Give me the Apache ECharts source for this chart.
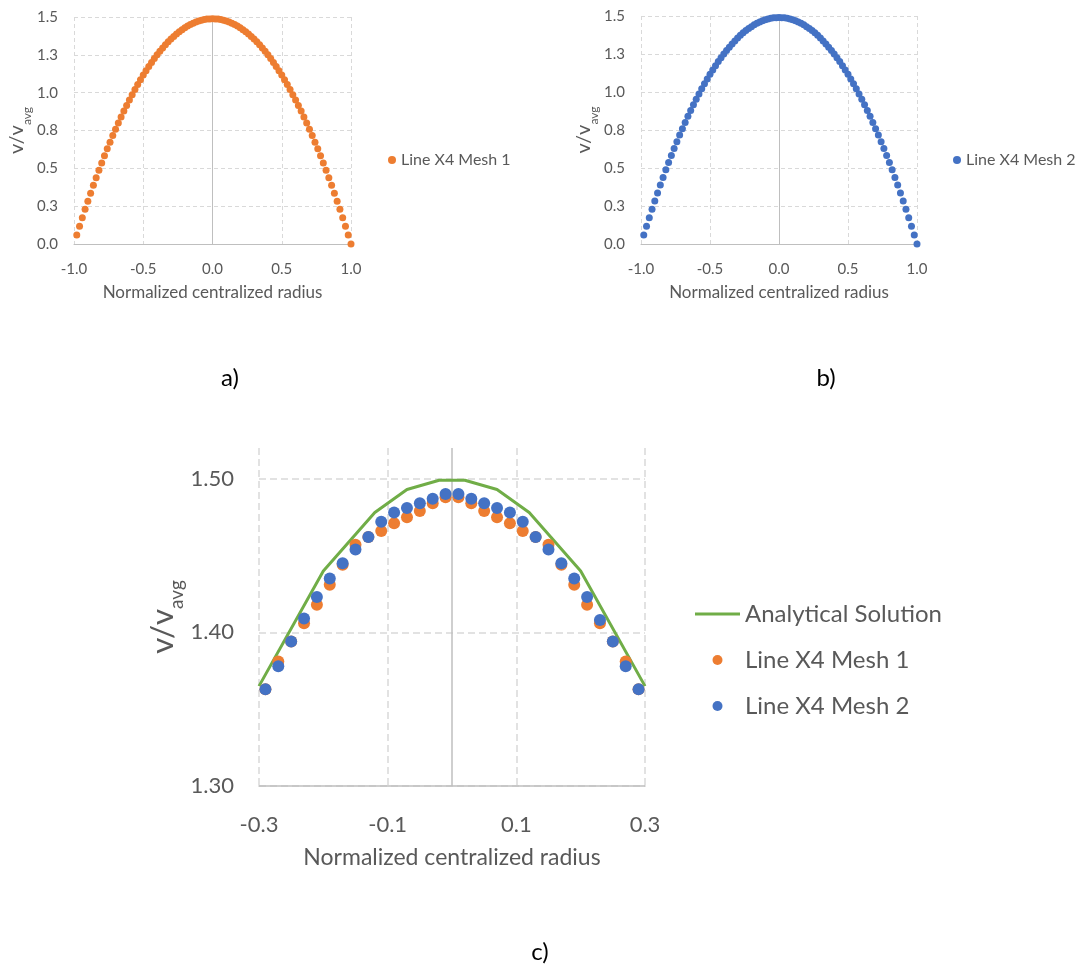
<!DOCTYPE html>
<html>
<head>
<meta charset="utf-8">
<script src="https://cdn.jsdelivr.net/npm/echarts@6/dist/echarts.min.js"></script>
<style>
html,body{margin:0;padding:0;background:#fff;}
#chart{width:1084px;height:967px;}
</style>
</head>
<body>
<div id="chart"></div>
<script>
// ---------- DATA ----------
// Panels a) and b): full profile
const radiusFull = [-0.98,-0.96,-0.94,-0.92,-0.90,-0.88,-0.86,-0.84,-0.82,-0.80,-0.78,-0.76,-0.74,-0.72,-0.70,-0.68,-0.66,-0.64,-0.62,-0.60,-0.58,-0.56,-0.54,-0.52,-0.50,-0.48,-0.46,-0.44,-0.42,-0.40,-0.38,-0.36,-0.34,-0.32,-0.30,-0.28,-0.26,-0.24,-0.22,-0.20,-0.18,-0.16,-0.14,-0.12,-0.10,-0.08,-0.06,-0.04,-0.02,0.00,0.02,0.04,0.06,0.08,0.10,0.12,0.14,0.16,0.18,0.20,0.22,0.24,0.26,0.28,0.30,0.32,0.34,0.36,0.38,0.40,0.42,0.44,0.46,0.48,0.50,0.52,0.54,0.56,0.58,0.60,0.62,0.64,0.66,0.68,0.70,0.72,0.74,0.76,0.78,0.80,0.82,0.84,0.86,0.88,0.90,0.92,0.94,0.96,0.98,1.00];
const mesh1Full = [0.059,0.117,0.173,0.229,0.283,0.336,0.388,0.438,0.488,0.536,0.583,0.629,0.673,0.717,0.759,0.800,0.840,0.879,0.916,0.952,0.987,1.021,1.054,1.086,1.116,1.145,1.173,1.200,1.226,1.250,1.273,1.295,1.316,1.336,1.354,1.371,1.387,1.402,1.416,1.429,1.440,1.450,1.459,1.467,1.473,1.479,1.483,1.486,1.487,1.488,1.487,1.486,1.483,1.479,1.473,1.467,1.459,1.450,1.440,1.429,1.416,1.402,1.387,1.371,1.354,1.336,1.316,1.295,1.273,1.250,1.226,1.200,1.173,1.145,1.116,1.086,1.054,1.021,0.987,0.952,0.916,0.879,0.840,0.800,0.759,0.717,0.673,0.629,0.583,0.536,0.488,0.438,0.388,0.336,0.283,0.229,0.173,0.117,0.059,0.000];
const mesh2Full = [0.059,0.117,0.173,0.229,0.283,0.336,0.388,0.438,0.488,0.536,0.583,0.629,0.673,0.717,0.759,0.800,0.840,0.879,0.916,0.952,0.987,1.021,1.054,1.086,1.116,1.145,1.173,1.200,1.226,1.250,1.273,1.295,1.316,1.336,1.356,1.373,1.389,1.404,1.418,1.430,1.442,1.452,1.461,1.469,1.475,1.480,1.485,1.488,1.489,1.490,1.489,1.488,1.485,1.480,1.475,1.469,1.461,1.452,1.442,1.430,1.418,1.404,1.389,1.373,1.356,1.336,1.316,1.295,1.273,1.250,1.226,1.200,1.173,1.145,1.116,1.086,1.054,1.021,0.987,0.952,0.916,0.879,0.840,0.800,0.759,0.717,0.673,0.629,0.583,0.536,0.488,0.438,0.388,0.336,0.283,0.229,0.173,0.117,0.059,0.000];

// Panel c): zoomed central region
const radiusZoom = [-0.29,-0.27,-0.25,-0.23,-0.21,-0.19,-0.17,-0.15,-0.13,-0.11,-0.09,-0.07,-0.05,-0.03,-0.01,0.01,0.03,0.05,0.07,0.09,0.11,0.13,0.15,0.17,0.19,0.21,0.23,0.25,0.27,0.29];
const mesh1Zoom = [1.363,1.381,1.394,1.406,1.418,1.431,1.444,1.457,1.462,1.466,1.471,1.475,1.479,1.484,1.488,1.488,1.484,1.479,1.475,1.471,1.466,1.462,1.457,1.444,1.431,1.418,1.406,1.394,1.381,1.363];
const mesh2Zoom = [1.363,1.378,1.394,1.409,1.423,1.435,1.445,1.454,1.462,1.472,1.478,1.481,1.484,1.487,1.490,1.490,1.487,1.484,1.481,1.478,1.472,1.462,1.454,1.445,1.435,1.423,1.408,1.394,1.378,1.363];
const radiusAnalytical = [-0.30,-0.20,-0.12,-0.07,-0.02,0.02,0.07,0.12,0.20,0.30];
const analytical = [1.365,1.440,1.478,1.493,1.499,1.499,1.493,1.478,1.440,1.365];

const seriesNames = ['Analytical Solution','Line X4 Mesh 1','Line X4 Mesh 2'];
const xTitle = 'Normalized centralized radius';
const panelLabels = ['a)','b)','c)'];

// ---------- STYLE ----------
const FONT = 'Lato, "Open Sans", sans-serif';
const TXT = '#595959';
const ORANGE = '#ed7d31', BLUE = '#4472c4', GREEN = '#70ad47';
const GRID_C = '#d9d9d9', AXIS_C = '#bfbfbf';
const LINE_ICON = 'path://M0,0 M0,3.5 L45,3.5 L45,6.5 L0,6.5 Z M45,10';

function pairs(xs, ys){ return xs.map((x,i)=>[x, ys[i]]); }

function xAxisCfg(gi, opts){
  return {
    type:'value', gridIndex:gi, min:opts.min, max:opts.max, interval:opts.interval,
    name: xTitle, nameLocation:'middle', nameGap:opts.nameGap,
    nameTextStyle:{fontFamily:FONT, fontSize:opts.nameSize, color:TXT},
    axisLine:{show:true, onZero:false, lineStyle:{color:AXIS_C, width:opts.lw}},
    axisTick:{show:false},
    axisLabel:{fontFamily:FONT, fontSize:opts.fs, color:TXT, margin:opts.margin,
      formatter:v=>v.toFixed(1)},
    splitLine:{show:true, lineStyle:{color:GRID_C, type:opts.dash, width:opts.lw}}
  };
}
function yAxisCfg(gi, opts){
  return {
    type:'value', gridIndex:gi, min:opts.min, max:opts.max, interval:opts.interval,
    name:'{a|v/v}{b|avg}', nameLocation:'middle', nameRotate:90, nameGap:opts.nameGap,
    nameTextStyle:{rich:{
      a:{fontFamily:FONT, fontSize:opts.na, color:TXT, lineHeight:opts.nl},
      b:{fontFamily:FONT, fontSize:opts.nb, color:TXT, lineHeight:opts.nl, verticalAlign:'bottom'}
    }},
    axisLine:{show:false},
    axisTick:{show:false},
    axisLabel:{fontFamily:FONT, fontSize:opts.fs, color:TXT, margin:opts.margin,
      showMaxLabel:opts.showMax, formatter:v=>v.toFixed(opts.dec)},
    splitLine:{show:true, showMaxLine:opts.showMax, lineStyle:{color:GRID_C, type:opts.dash, width:opts.lw}}
  };
}
function zeroLine(lw){
  return {silent:true, symbol:'none', z:1, animation:false, label:{show:false},
    lineStyle:{color:AXIS_C, type:'solid', width:lw}, emphasis:{disabled:true},
    data:[{xAxis:0}]};
}

const option = {
  backgroundColor:'#fff',
  animation:false,
  grid:[
    {left:74, top:17, width:277, height:227},
    {left:641, top:16, width:276, height:228},
    {left:259, top:448, width:386, height:338}
  ],
  xAxis:[
    xAxisCfg(0,{min:-1,max:1,interval:0.5,fs:15,margin:18,nameGap:40,nameSize:17,lw:1,dash:[4,3]}),
    xAxisCfg(1,{min:-1,max:1,interval:0.5,fs:15,margin:18,nameGap:40,nameSize:17,lw:1,dash:[4,3]}),
    xAxisCfg(2,{min:-0.3,max:0.3,interval:0.2,fs:22,margin:28,nameGap:60,nameSize:23,lw:1.5,dash:[7,4]})
  ],
  yAxis:[
    yAxisCfg(0,{min:0,max:1.5,interval:0.25,fs:15,margin:16,dec:1,showMax:true,nameGap:39,na:20,nb:12,nl:34,lw:1,dash:[4,3]}),
    yAxisCfg(1,{min:0,max:1.5,interval:0.25,fs:15,margin:16,dec:1,showMax:true,nameGap:39,na:20,nb:12,nl:34,lw:1,dash:[4,3]}),
    yAxisCfg(2,{min:1.3,max:1.52,interval:0.1,fs:22,margin:25,dec:2,showMax:false,nameGap:73,na:31,nb:19,nl:46,lw:1.5,dash:[7,4]})
  ],
  legend:[
    {left:383, top:147, itemWidth:8, itemHeight:8, itemGap:10, selectedMode:false,
     textStyle:{fontFamily:FONT, fontSize:16, color:TXT}, data:[{name:seriesNames[1], icon:'circle'}]},
    {left:948, top:147, itemWidth:8, itemHeight:8, itemGap:10, selectedMode:false,
     textStyle:{fontFamily:FONT, fontSize:16, color:TXT}, data:[{name:seriesNames[2], icon:'circle'}]},
    {left:690, top:595, orient:'vertical', itemWidth:45, itemHeight:10, itemGap:18, selectedMode:false,
     textStyle:{fontFamily:FONT, fontSize:24, color:TXT, lineHeight:28},
     data:[{name:seriesNames[0], icon:LINE_ICON}, {name:seriesNames[1], icon:'circle'}, {name:seriesNames[2], icon:'circle'}]}
  ],
  series:[
    {name:seriesNames[1], type:'scatter', xAxisIndex:0, yAxisIndex:0, symbolSize:7,
     itemStyle:{color:ORANGE, opacity:1}, data:pairs(radiusFull, mesh1Full), markLine:zeroLine(1), z:3},
    {name:seriesNames[2], type:'scatter', xAxisIndex:1, yAxisIndex:1, symbolSize:7,
     itemStyle:{color:BLUE, opacity:1}, data:pairs(radiusFull, mesh2Full), markLine:zeroLine(1), z:3},
    {name:seriesNames[0], type:'line', xAxisIndex:2, yAxisIndex:2, symbol:'none', showSymbol:false,
     lineStyle:{color:GREEN, width:3}, itemStyle:{color:GREEN},
     data:pairs(radiusAnalytical, analytical), markLine:zeroLine(1.5), z:2},
    {name:seriesNames[1], type:'scatter', xAxisIndex:2, yAxisIndex:2, symbolSize:12,
     itemStyle:{color:ORANGE, opacity:1}, data:pairs(radiusZoom, mesh1Zoom), z:3},
    {name:seriesNames[2], type:'scatter', xAxisIndex:2, yAxisIndex:2, symbolSize:12,
     itemStyle:{color:BLUE, opacity:1}, data:pairs(radiusZoom, mesh2Zoom), z:4}
  ],
  graphic:[
    {type:'text', x:230, y:378, style:{text:panelLabels[0], fontFamily:FONT, fontSize:24, fill:'#000', align:'center', verticalAlign:'middle'}},
    {type:'text', x:826, y:378, style:{text:panelLabels[1], fontFamily:FONT, fontSize:24, fill:'#000', align:'center', verticalAlign:'middle'}},
    {type:'text', x:540, y:952, style:{text:panelLabels[2], fontFamily:FONT, fontSize:24, fill:'#000', align:'center', verticalAlign:'middle'}}
  ]
};

const chart = echarts.init(document.getElementById('chart'), null, {renderer:'canvas'});
chart.setOption(option);
</script>
</body>
</html>
